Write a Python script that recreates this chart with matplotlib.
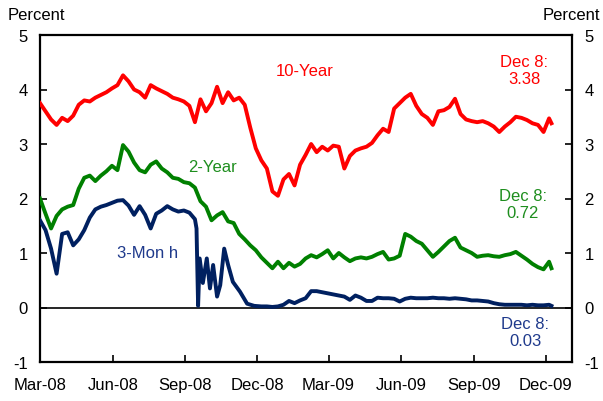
import matplotlib
matplotlib.use('Agg')
import matplotlib.pyplot as plt
import matplotlib.dates as mdates
import pandas as pd

plt.rcParams['font.family'] = ['Liberation Sans', 'DejaVu Sans']
plt.rcParams['axes.unicode_minus'] = False

# ---------------- data ----------------
weekly_dates = pd.date_range('2008-03-01', periods=93, freq='7D')
last_date = pd.Timestamp('2009-12-08')

ten_year = [3.75, 3.60, 3.45, 3.35, 3.48, 3.42, 3.52, 3.72, 3.80, 3.78,
            3.85, 3.90, 3.95, 4.02, 4.08, 4.26, 4.15, 4.00, 3.95, 3.85,
            4.08, 4.02, 3.97, 3.92, 3.85, 3.82, 3.78, 3.70, 3.40, 3.82,
            3.60, 3.75, 4.05, 3.75, 3.95, 3.80, 3.85, 3.72, 3.30, 2.92,
            2.70, 2.55, 2.13, 2.05, 2.35, 2.45, 2.24, 2.62, 2.80, 3.00,
            2.85, 2.95, 2.88, 2.97, 2.95, 2.55, 2.78, 2.88, 2.92, 2.95,
            3.02, 3.16, 3.28, 3.22, 3.65, 3.75, 3.85, 3.92, 3.70, 3.55,
            3.48, 3.35, 3.60, 3.62, 3.68, 3.83, 3.55, 3.45, 3.42, 3.40,
            3.42, 3.38, 3.32, 3.22, 3.32, 3.40, 3.50, 3.48, 3.44, 3.38,
            3.35, 3.22, 3.47, 3.38]

two_year = [2.00, 1.72, 1.45, 1.68, 1.80, 1.85, 1.88, 2.18, 2.38, 2.42,
            2.32, 2.42, 2.50, 2.60, 2.52, 2.98, 2.86, 2.66, 2.52, 2.48,
            2.62, 2.68, 2.55, 2.48, 2.38, 2.36, 2.30, 2.28, 2.20, 1.95,
            1.85, 1.60, 1.69, 1.75, 1.58, 1.55, 1.35, 1.25, 1.14, 1.05,
            0.92, 0.82, 0.72, 0.84, 0.72, 0.82, 0.75, 0.80, 0.90, 0.96,
            0.92, 0.98, 1.05, 0.90, 1.00, 0.92, 0.85, 0.90, 0.92, 0.90,
            0.93, 0.98, 1.02, 0.88, 0.90, 0.95, 1.35, 1.30, 1.22, 1.17,
            1.05, 0.93, 1.02, 1.12, 1.22, 1.28, 1.10, 1.05, 1.00, 0.93,
            0.95, 0.96, 0.94, 0.93, 0.96, 0.98, 1.02, 0.95, 0.88, 0.80,
            0.74, 0.70, 0.84, 0.72]

three_month_early = [1.60, 1.42, 1.08, 0.62, 1.35, 1.38, 1.14, 1.25, 1.42, 1.65,
                     1.80, 1.85, 1.88, 1.92, 1.96, 1.97, 1.87, 1.70, 1.86, 1.70,
                     1.45, 1.72, 1.78, 1.86, 1.80, 1.76, 1.78, 1.74, 1.62]
three_month_fall_dates = ['2008-09-15', '2008-09-17', '2008-09-19', '2008-09-23',
                          '2008-09-28', '2008-10-02', '2008-10-06', '2008-10-11',
                          '2008-10-15', '2008-10-20', '2008-10-25', '2008-10-31',
                          '2008-11-09', '2008-11-18', '2008-11-27']
three_month_fall = [1.45, 0.03, 0.90, 0.45, 0.90, 0.35, 0.78, 0.20,
                    0.41, 1.08, 0.78, 0.47, 0.29, 0.07, 0.03]
three_month_late = [0.02, 0.02, 0.01, 0.02, 0.05, 0.12, 0.08, 0.13, 0.17, 0.30,
                    0.30, 0.28, 0.26, 0.24, 0.22, 0.20, 0.14, 0.22, 0.18, 0.12,
                    0.12, 0.18, 0.17, 0.17, 0.16, 0.11, 0.16, 0.18, 0.17, 0.17,
                    0.17, 0.18, 0.17, 0.17, 0.16, 0.17, 0.16, 0.15, 0.13, 0.13,
                    0.12, 0.11, 0.08, 0.06, 0.05, 0.05, 0.05, 0.05, 0.04, 0.05,
                    0.04, 0.04, 0.05, 0.03]

tick_dates = ['2008-03-01', '2008-06-01', '2008-09-01', '2008-12-01',
              '2009-03-01', '2009-06-01', '2009-09-01', '2009-12-01']
y_ticks = [-1, 0, 1, 2, 3, 4, 5]
y_tick_labels = ['-1', '0', '1', '2', '3', '4', '5']

# ---------------- build series ----------------
dates_long = list(weekly_dates) + [last_date]
dates_3m = (list(weekly_dates[:29]) + list(pd.to_datetime(three_month_fall_dates))
            + list(weekly_dates[40:]) + [last_date])
vals_3m = three_month_early + three_month_fall + three_month_late

RED = '#FF0000'
GREEN = '#008000'
NAVY = '#002060'

fig = plt.figure(figsize=(6.03, 4.02), dpi=100)
ax = fig.add_axes([40/603, 1-363/402, 532/603, 327/402])

ax.axhline(0, color='black', lw=1.2, zorder=1)
ax.plot(dates_long, ten_year, color=RED, lw=2.8, zorder=3)
ax.plot(dates_long, two_year, color=GREEN, lw=2.8, zorder=3)
ax.plot(dates_3m, vals_3m, color=NAVY, lw=2.8, zorder=3)

ax.set_xlim(pd.Timestamp('2008-03-01'), pd.Timestamp('2010-01-03'))
ax.set_ylim(-1, 5)
ax.set_yticks(y_ticks)
ax.set_yticklabels(y_tick_labels)
ax.set_xticks(pd.to_datetime(tick_dates))
ax.xaxis.set_major_formatter(mdates.DateFormatter('%b-%y'))

for s in ax.spines.values():
    s.set_linewidth(1.6)
    s.set_color('black')

ax.tick_params(axis='y', direction='in', length=5, width=1.2, labelsize=12,
               left=True, right=True, labelleft=True, labelright=True, pad=9)
ax.tick_params(axis='x', direction='in', length=5, width=1.2, labelsize=12, pad=11)

fig.text(8/603, 1-15/402, 'Percent', fontsize=12, ha='left', va='center')
fig.text(600/603, 1-15/402, 'Percent', fontsize=12, ha='right', va='center')

ax.text(0.498, 0.89, '10-Year', color=RED, fontsize=12, ha='center', va='center',
        transform=ax.transAxes)
ax.text(0.325, 0.599, '2-Year', color='#1E8E1E', fontsize=12, ha='center', va='center',
        transform=ax.transAxes)
ax.text(0.203, 0.336, '3-Mon h', color='#1F3A8C', fontsize=12, ha='center', va='center',
        transform=ax.transAxes)
ax.text(0.910, 0.894, 'Dec 8:\n3.38', color=RED, fontsize=12, ha='center', va='center',
        transform=ax.transAxes, linespacing=1.15)
ax.text(0.908, 0.483, 'Dec 8:\n0.72', color='#1E8E1E', fontsize=12, ha='center', va='center',
        transform=ax.transAxes, linespacing=1.15)
ax.text(0.912, 0.092, 'Dec 8:\n0.03', color='#1F3A8C', fontsize=12, ha='center', va='center',
        transform=ax.transAxes, linespacing=1.15)

fig.savefig('out.png', dpi=100)
